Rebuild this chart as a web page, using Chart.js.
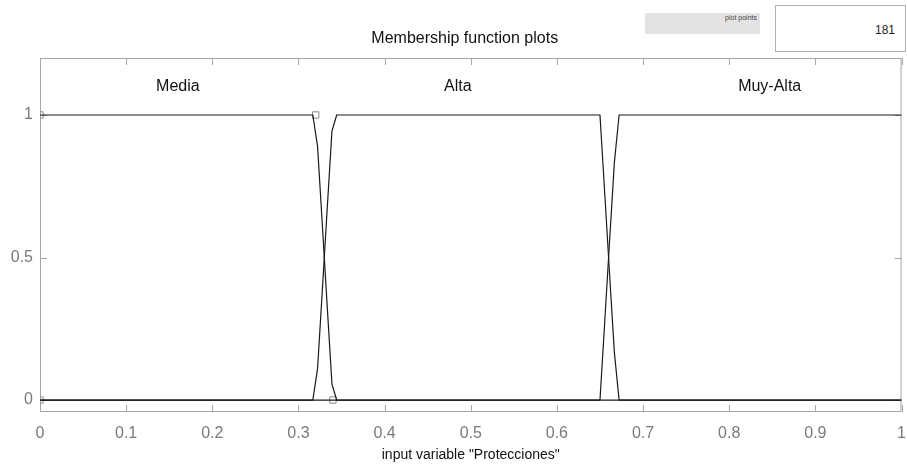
<!DOCTYPE html>
<html lang="en">
  <head>
    <meta charset="utf-8" />
    <title>Membership function plots</title>
    <script src="https://cdn.jsdelivr.net/npm/chart.js@4.4.0/dist/chart.umd.min.js"></script>
    <style>
      * {
        margin: 0;
        padding: 0;
        box-sizing: border-box;
      }
      body {
        width: 907px;
        height: 469px;
        background: #ffffff;
        font-family: "Liberation Sans", Arial, sans-serif;
        position: relative;
        overflow: hidden;
      }
      #chart {
        position: absolute;
        left: 0;
        top: 0;
      }
      /* plot points controls */
      #pp-label {
        position: absolute;
        left: 645px;
        top: 13px;
        width: 115px;
        height: 21px;
        background: #e3e3e3;
        font-size: 7px;
        color: #444;
        text-align: right;
        padding: 1px 3px 0 0;
      }
      #pp-box {
        position: absolute;
        left: 775px;
        top: 5px;
        width: 131px;
        height: 47px;
        background: #fff;
        border: 1px solid #b0b0b0;
        font-size: 12px;
        color: #222;
        text-align: right;
        padding: 17px 10px 0 0;
      }
    </style>
  </head>
  <body>
    <canvas id="chart" width="907" height="469"></canvas>
    <div id="pp-label">plot points</div>
    <div id="pp-box">181</div>
    <script>
      const mediaX = [0, 0.3167, 0.3222, 0.3278, 0.3333, 0.3389, 0.3444, 1];
      const mediaY = [1, 1, 0.889, 0.611, 0.333, 0.056, 0, 0];
      const altaX = [0, 0.3167, 0.3222, 0.3278, 0.3333, 0.3389, 0.3444, 0.65, 0.6556, 0.6611, 0.6667, 0.6722, 1];
      const altaY = [0, 0, 0.111, 0.389, 0.667, 0.944, 1, 1, 0.722, 0.444, 0.167, 0, 0];
      const muyAltaX = [0, 0.65, 0.6556, 0.6611, 0.6667, 0.6722, 1];
      const muyAltaY = [0, 0, 0.278, 0.556, 0.833, 1, 1];

      // parameter handles of the selected function
      const handleX = [0, 0, 0.32, 0.34];
      const handleY = [1, 0, 1, 0];

      // function names and where they are printed
      const mfNames = ["Media", "Alta", "Muy-Alta"];
      const mfNameX = [0.16, 0.485, 0.847];
      const mfNameY = 1.1;

      const xTicks = [0, 0.1, 0.2, 0.3, 0.4, 0.5, 0.6, 0.7, 0.8, 0.9, 1];
      const yTicks = [0, 0.5, 1];

      const toPts = (xs, ys) => xs.map((x, i) => ({ x: x, y: ys[i] }));

      const lineSet = (label, xs, ys) => ({
        label: label,
        data: toPts(xs, ys),
        borderColor: "#1a1a1a",
        borderWidth: 1.2,
        pointRadius: 0,
        tension: 0,
        fill: false,
      });

      const FONT = "'Liberation Sans', Arial, sans-serif";
      const GRAY = "#a6a6a6";

      // inward ticks, frame, title and function names
      const decor = {
        id: "decor",
        beforeDatasetsDraw(chart) {
          const { ctx, chartArea: a, scales } = chart;
          ctx.save();
          ctx.strokeStyle = GRAY;
          ctx.lineWidth = 1;
          xTicks.forEach((v) => {
            const px = Math.round(scales.x.getPixelForValue(v)) + 0.5;
            ctx.beginPath();
            ctx.moveTo(px, a.bottom);
            ctx.lineTo(px, a.bottom - 7);
            ctx.moveTo(px, a.top);
            ctx.lineTo(px, a.top + 7);
            ctx.stroke();
          });
          yTicks.forEach((v) => {
            const py = Math.round(scales.y.getPixelForValue(v)) + 0.5;
            ctx.beginPath();
            ctx.moveTo(a.left, py);
            ctx.lineTo(a.left + 7, py);
            ctx.moveTo(a.right, py);
            ctx.lineTo(a.right - 7, py);
            ctx.stroke();
          });
          ctx.strokeRect(a.left + 0.5, a.top + 0.5, a.right - a.left - 1, a.bottom - a.top - 1);
          ctx.restore();
        },
        afterDraw(chart) {
          const { ctx, chartArea: a, scales } = chart;
          ctx.save();
          ctx.fillStyle = "#111";
          ctx.textAlign = "center";
          ctx.textBaseline = "middle";
          ctx.font = "16px " + FONT;
          ctx.fillText("Membership function plots", (a.left + a.right) / 2 - 6, 39);
          mfNames.forEach((n, i) => {
            ctx.fillText(n, scales.x.getPixelForValue(mfNameX[i]), scales.y.getPixelForValue(mfNameY));
          });
          ctx.restore();
        },
      };

      new Chart(document.getElementById("chart"), {
        type: "line",
        plugins: [decor],
        data: {
          datasets: [
            lineSet("Media", mediaX, mediaY),
            lineSet("Alta", altaX, altaY),
            lineSet("Muy-Alta", muyAltaX, muyAltaY),
            {
              type: "scatter",
              label: "handles",
              data: toPts(handleX, handleY),
              pointStyle: "rect",
              pointRadius: 4.5,
              borderColor: "#8c8c8c",
              backgroundColor: "rgba(255,255,255,0)",
              borderWidth: 1,
              clip: { left: 0, top: 10, right: 10, bottom: 10 },
            },
          ],
        },
        options: {
          responsive: false,
          animation: false,
          layout: { padding: { top: 58, right: 5, left: 0, bottom: 0 } },
          plugins: {
            legend: { display: false },
            tooltip: { enabled: false },
          },
          scales: {
            x: {
              type: "linear",
              min: 0,
              max: 1,
              afterBuildTicks: (s) => {
                s.ticks = xTicks.map((v) => ({ value: v }));
              },
              afterFit: (s) => {
                s.height = 57;
                s.paddingLeft = 0;
                s.paddingRight = 0;
              },
              grid: { display: false, drawTicks: false },
              border: { display: false },
              ticks: {
                padding: 12,
                color: "#7a7a7a",
                font: { family: FONT, size: 16 },
                maxRotation: 0,
                callback: (v) => String(v),
              },
              title: {
                display: true,
                text: 'input variable "Protecciones"',
                color: "#111",
                font: { family: FONT, size: 14 },
                padding: { top: 0, bottom: 5 },
              },
            },
            y: {
              min: -0.042,
              max: 1.2,
              afterBuildTicks: (s) => {
                s.ticks = yTicks.map((v) => ({ value: v }));
              },
              afterFit: (s) => {
                s.width = 40;
              },
              grid: { display: false, drawTicks: false },
              border: { display: false },
              ticks: {
                padding: 7,
                color: "#7a7a7a",
                font: { family: FONT, size: 16 },
                callback: (v) => String(v),
              },
            },
          },
        },
      });
    </script>
  </body>
</html>
